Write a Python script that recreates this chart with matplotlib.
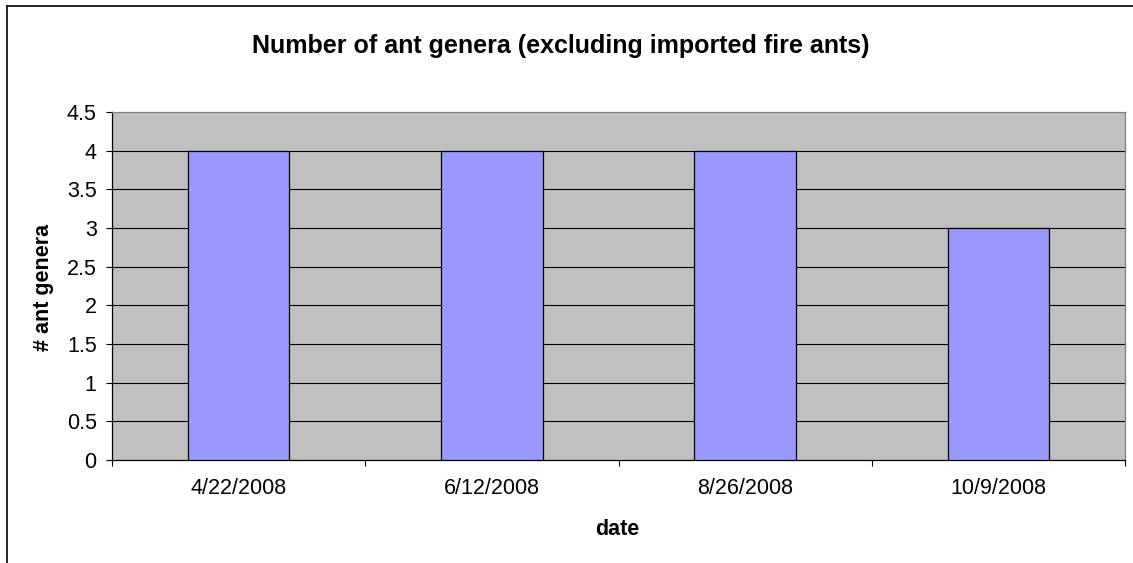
import matplotlib
matplotlib.use("Agg")
import matplotlib.pyplot as plt
from matplotlib.lines import Line2D
import numpy as np

categories = ["4/22/2008", "6/12/2008", "8/26/2008", "10/9/2008"]
values = [4, 4, 4, 3]
yticks = [0, 0.5, 1, 1.5, 2, 2.5, 3, 3.5, 4, 4.5]
ytick_labels = ["0", "0.5", "1", "1.5", "2", "2.5", "3", "3.5", "4", "4.5"]

plt.rcParams['font.family'] = ['Liberation Sans', 'DejaVu Sans']

W, H = 1133, 563
fig = plt.figure(figsize=(W / 100, H / 100), dpi=100)
ax = fig.add_axes([112 / W, 1 - 460 / H, (1125 - 112) / W, (460 - 112) / H])
ax.set_facecolor('#C0C0C0')

x = np.arange(len(categories))
ax.bar(x, values, width=0.4, color='#9999FF', edgecolor='black', linewidth=0.9, zorder=3)
ax.set_xlim(-0.5, len(categories) - 0.5)
ax.set_ylim(0, 4.5)
ax.set_yticks(yticks)
ax.set_yticklabels(ytick_labels, fontsize=15.5)
for yv in yticks[1:-1]:
    ax.axhline(yv, color='black', linewidth=0.8, zorder=1)

ax.set_xticks(x)
ax.set_xticklabels(categories, fontsize=15.5)
ax.tick_params(axis='x', length=0, pad=13)
ax.set_xticks(np.arange(len(categories) + 1) - 0.5, minor=True)
ax.tick_params(axis='x', which='minor', length=4.3, width=0.8, color='black', direction='out')
ax.tick_params(axis='y', length=4, width=0.8, direction='out', pad=7)

ax.spines['left'].set_color('black')
ax.spines['bottom'].set_color('black')
ax.spines['top'].set_color('#808080')
ax.spines['right'].set_color('#808080')
for s in ax.spines.values():
    s.set_linewidth(0.9)

fig.text(617 / W, 1 - 535 / H, 'date', ha='center', va='baseline',
         fontsize=15.5, fontweight='bold')
fig.text(43 / W, 1 - 287 / H, '# ant genera', ha='center', va='center',
         rotation=90, fontsize=15.5, fontweight='bold')
fig.text(560.5 / W, 1 - 53 / H,
         'Number of ant genera (excluding imported fire ants)',
         ha='center', va='baseline', fontsize=18, fontweight='bold')

# outer chart border (extends beyond the right/bottom edge)
fig.add_artist(Line2D([7 / W, 7 / W], [0, 1 - 6 / H], transform=fig.transFigure,
                      color='black', linewidth=1.2))
fig.add_artist(Line2D([7 / W, 1], [1 - 6 / H, 1 - 6 / H], transform=fig.transFigure,
                      color='black', linewidth=1.2))

fig.savefig('out.png', dpi=100)
